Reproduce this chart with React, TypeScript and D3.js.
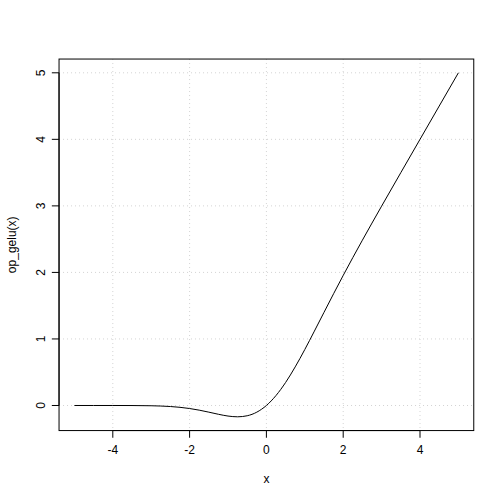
import React from 'react';
import * as d3 from 'd3';

// GELU curve
const xs = [-5, -4.5, -4, -3.5, -3, -2.75, -2.5, -2.25, -2, -1.75, -1.5, -1.25, -1, -0.75, -0.5, -0.25, 0, 0.25, 0.5, 0.75, 1, 1.25, 1.5, 1.75, 2, 2.25, 2.5, 2.75, 3, 3.5, 4, 4.5, 5];
const ys = [0, 0, -0.0001, -0.0008, -0.004, -0.0082, -0.0155, -0.0275, -0.0455, -0.0701, -0.1002, -0.132, -0.1587, -0.17, -0.1543, -0.1003, 0, 0.1497, 0.3457, 0.58, 0.8413, 1.118, 1.3998, 1.6799, 1.9545, 2.2225, 2.4845, 2.7418, 2.996, 3.4992, 3.9999, 4.5, 5];
const xTicks = [-4, -2, 0, 2, 4];
const yTicks = [0, 1, 2, 3, 4, 5];

const W = 504, H = 504;
const L = 59.04, R = 473.76, T = 59.04, B = 430.56;
const font = 'Liberation Sans, Arial, Helvetica, sans-serif';

export default function App() {
  const yMin = d3.min(ys)!, yMax = d3.max(ys)!;
  const ypad = (yMax - yMin) * 0.04;
  const x = d3.scaleLinear().domain([-5.4, 5.4]).range([L, R]);
  const y = d3.scaleLinear().domain([yMin - ypad, yMax + ypad]).range([B, T]);

  const line = d3.line<number>()
    .x((d, i) => x(xs[i]))
    .y(d => y(d))
    .curve(d3.curveMonotoneX);

  return (
    <svg width={W} height={H} style={{ position: 'absolute', left: 0, top: 0, background: '#fff' }}
      fontFamily={font} fontSize={12}>
      {xTicks.map(t => (
        <line key={'gx' + t} x1={x(t)} x2={x(t)} y1={T} y2={B} stroke="#d3d3d3" strokeDasharray="1,3" />
      ))}
      {yTicks.map(t => (
        <line key={'gy' + t} x1={L} x2={R} y1={y(t)} y2={y(t)} stroke="#d3d3d3" strokeDasharray="1,3" />
      ))}
      <path d={line(ys) || ''} fill="none" stroke="#000" strokeWidth={1} />
      <rect x={L} y={T} width={R - L} height={B - T} fill="none" stroke="#000" />

      {/* x axis */}
      <line x1={x(xTicks[0])} x2={x(xTicks[xTicks.length - 1])} y1={B} y2={B} stroke="#000" />
      {xTicks.map(t => (
        <g key={'xt' + t}>
          <line x1={x(t)} x2={x(t)} y1={B} y2={B + 7.2} stroke="#000" />
          <text x={x(t)} y={B + 14.4 + 9} textAnchor="middle">{t}</text>
        </g>
      ))}
      <text x={(L + R) / 2} y={B + 43.2 + 9} textAnchor="middle">x</text>

      {/* y axis */}
      <line x1={L} x2={L} y1={y(yTicks[0])} y2={y(yTicks[yTicks.length - 1])} stroke="#000" />
      {yTicks.map(t => (
        <g key={'yt' + t}>
          <line x1={L} x2={L - 7.2} y1={y(t)} y2={y(t)} stroke="#000" />
          <text transform={`translate(${L - 14.4},${y(t)}) rotate(-90)`} textAnchor="middle">{t}</text>
        </g>
      ))}
      <text transform={`translate(${L - 43.2},${(T + B) / 2}) rotate(-90)`} textAnchor="middle">op_gelu(x)</text>
    </svg>
  );
}
